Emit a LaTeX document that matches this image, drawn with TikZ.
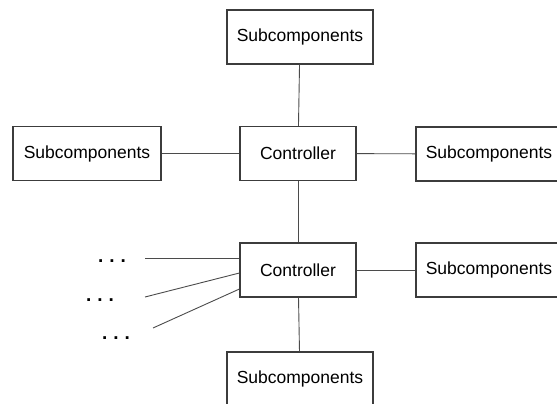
\documentclass[tikz,border=0pt]{standalone}
\usepackage{fontspec}
\setmainfont{Liberation Sans}
\usepackage{tikz}
\usetikzlibrary{positioning,calc}
\definecolor{edge}{RGB}{60,60,60}
\definecolor{wire}{RGB}{75,75,75}

\begin{document}
\begin{tikzpicture}[x=1pt,y=-1pt,
    box/.style={draw=edge,line width=1.1pt,fill=white,minimum height=54pt,inner sep=0pt,font=\fontsize{17.5}{20}\selectfont},
    sub/.style={box,minimum width=146pt},
    ctrl/.style={box,minimum width=116pt},
    link/.style={draw=wire,line width=0.9pt},
    dots/.style={font=\fontsize{19}{20}\selectfont\bfseries,inner sep=0pt}]
    \useasboundingbox (0,0) rectangle (557,404);
    \node[sub] (top) at (300,37) {Subcomponents};
    \node[ctrl] (ctrlA) at (298,153.5) {Controller};
    \node[sub,minimum width=148pt] (left) at (87,153.5) {Subcomponents};
    \node[sub] (rightA) at (489,154) {Subcomponents};
    \node[ctrl] (ctrlB) at (298,270) {Controller};
    \node[sub] (rightB) at (489,270) {Subcomponents};
    \node[sub] (bottom) at (300,379) {Subcomponents};
    \draw[link] (top) -- (ctrlA);
    \draw[link] (left) -- (ctrlA);
    \draw[link] (ctrlA) -- (rightA);
    \draw[link] (ctrlA) -- (ctrlB);
    \draw[link] (ctrlB) -- (rightB);
    \draw[link] (ctrlB) -- (bottom);
    % loose ends on the left of the lower controller
    \coordinate (endA) at (145,258);
    \coordinate (endB) at (145,297);
    \coordinate (endC) at (153,328);
    \draw[link] (endA) -- ([yshift=12pt]ctrlB.west);
    \draw[link] (endB) -- ([yshift=-3pt]ctrlB.west);
    \draw[link] (endC) -- ([yshift=-19pt]ctrlB.west);
    \node[dots] (dotsA) at (112,261) {.\hspace{6pt}.\hspace{6pt}.};
    \node[dots] (dotsB) at (100,300) {.\hspace{6pt}.\hspace{6pt}.};
    \node[dots] (dotsC) at (116,338) {.\hspace{6pt}.\hspace{6pt}.};
\end{tikzpicture}
\end{document}
